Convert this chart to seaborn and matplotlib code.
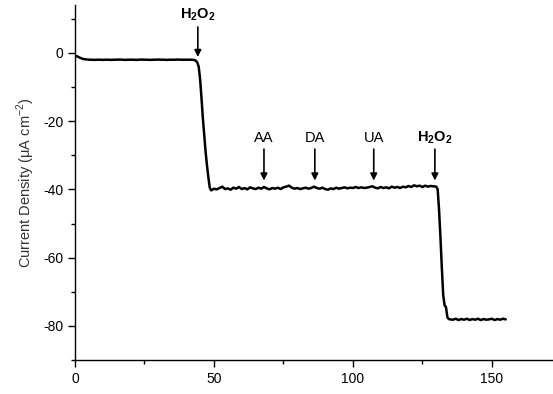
import matplotlib
matplotlib.use("Agg")
import matplotlib.pyplot as plt
import seaborn as sns
import pandas as pd
from matplotlib.ticker import MultipleLocator

time_s = [0, 1, 2, 3, 4, 5, 6, 7, 8, 9, 10, 11, 12, 13, 14, 15, 16, 17, 18, 19, 20,
          21, 22, 23, 24, 25, 26, 27, 28, 29, 30, 31, 32, 33, 34, 35, 36, 37, 38, 39,
          40, 41, 42, 43,
          43.5, 44, 44.5, 45, 45.5, 46, 46.5, 47, 47.5, 48, 48.5, 49,
          50, 51, 52, 53, 54, 55, 56, 57, 58, 59, 60, 61, 62, 63, 64, 65, 66, 67, 68,
          69, 70, 71, 72, 73, 74, 75, 76, 77, 78, 79, 80, 81, 82, 83, 84, 85, 86, 87,
          88, 89, 90, 91, 92, 93, 94, 95, 96, 97, 98, 99, 100, 101, 102, 103, 104, 105,
          106, 107, 108, 109, 110, 111, 112, 113, 114, 115, 116, 117, 118, 119, 120,
          121, 122, 123, 124, 125, 126, 127, 128, 129, 130,
          130.5, 131, 131.5, 132, 132.5, 133, 133.5, 134, 134.5,
          135, 136, 137, 138, 139, 140, 141, 142, 143, 144, 145, 146, 147, 148, 149,
          150, 151, 152, 153, 154, 155]

current = [-0.8, -1.1, -1.5, -1.8, -1.9, -2.0, -2.0, -2.05, -2.0, -2.0, -2.05, -2.0,
           -2.0, -2.05, -2.0, -2.0, -1.95, -2.0, -2.05, -2.0, -2.0, -2.0, -2.05, -2.0,
           -1.95, -2.0, -2.0, -2.05, -2.0, -2.0, -1.95, -2.0, -2.0, -2.05, -2.0, -2.0,
           -2.0, -1.95, -2.0, -2.0, -2.0, -2.0, -2.0, -2.1,
           -2.3, -2.8, -4.0, -7.5, -13, -19, -24, -29, -33, -36.5, -39.5, -40.3,
           -39.8, -40.0, -39.6, -39.2, -39.9, -39.7, -40.1, -39.5, -39.8, -39.3, -39.9,
           -39.6, -40.0, -39.4, -39.7, -39.9, -39.5, -39.8, -39.3, -39.7, -40.0, -39.6,
           -39.8, -39.5, -39.9, -39.4, -39.2, -38.9, -39.5, -39.8, -39.6, -39.9, -39.7,
           -39.5, -39.8, -39.6, -39.2, -39.6, -39.8, -39.5, -39.9, -40.1, -39.7, -39.9,
           -39.5, -39.8, -39.6, -39.4, -39.7, -39.5, -39.6, -39.3, -39.6, -39.4, -39.6,
           -39.5, -39.3, -39.1, -39.5, -39.7, -39.3, -39.6, -39.4, -39.7, -39.2, -39.5,
           -39.3, -39.6, -39.2, -39.4, -39.0, -39.3, -38.8, -39.1, -38.9, -39.3, -38.9,
           -39.2, -39.0, -39.1, -39.2,
           -40, -46, -54, -63, -71, -74, -74.5, -77.5, -78.0,
           -78.1, -78.2, -77.9, -78.3, -78.0, -78.2, -77.9, -78.3, -78.0, -78.2, -77.9,
           -78.3, -78.0, -78.2, -78.1, -77.9, -78.3, -78.0, -78.2, -77.9, -78.1]

ann_labels = [r"$\mathbf{H_2O_2}$", "AA", "DA", "UA", r"$\mathbf{H_2O_2}$"]
ann_x = [44.2, 68, 86.3, 107.5, 129.5]
ann_tip = [-1.2, -37.4, -37.4, -37.4, -37.4]
ann_text_y = [11.2, -25, -25, -25, -25]
ann_tail = [7.6, -28.2, -28.2, -28.2, -28.2]

sns.set_theme(style="ticks")
plt.rcParams['font.family'] = ['Liberation Sans', 'DejaVu Sans']
plt.rcParams['mathtext.fontset'] = 'custom'
plt.rcParams['mathtext.rm'] = 'Liberation Sans'
plt.rcParams['mathtext.bf'] = 'Liberation Sans:bold'
plt.rcParams['axes.unicode_minus'] = False
plt.rcParams['text.color'] = 'black'
plt.rcParams['axes.labelcolor'] = 'black'
plt.rcParams['xtick.color'] = 'black'
plt.rcParams['ytick.color'] = 'black'

df = pd.DataFrame({"t": time_s, "j": current})

fig = plt.figure(figsize=(5.53, 3.94), dpi=100)
ax = fig.add_axes([0.1356, 0.0863, 0.8644, 0.9007])
sns.lineplot(data=df, x="t", y="j", ax=ax, color="black", linewidth=1.8,
             estimator=None, sort=False)

ax.set_xlim(0, 172)
ax.set_ylim(-90, 14)
ax.xaxis.set_major_locator(MultipleLocator(50))
ax.xaxis.set_minor_locator(MultipleLocator(25))
ax.yaxis.set_major_locator(MultipleLocator(20))
ax.yaxis.set_minor_locator(MultipleLocator(10))
ax.tick_params(which="major", direction="out", length=5, width=1, labelsize=10,
               colors="black")
ax.tick_params(which="minor", direction="out", length=3, width=1, colors="black")
for s in ["top", "right"]:
    ax.spines[s].set_visible(False)
for s in ["left", "bottom"]:
    ax.spines[s].set_linewidth(1)
    ax.spines[s].set_color("black")

ax.set_xlabel("")
ax.set_ylabel("Current Density (\u03bcA cm$^{-2}$)", fontsize=10.5, color="#333333")

for lab, x, tip, ty, tail in zip(ann_labels, ann_x, ann_tip, ann_text_y, ann_tail):
    ax.annotate("", xy=(x, tip), xytext=(x, tail),
                arrowprops=dict(arrowstyle="-|>", color="black", lw=1.2,
                                mutation_scale=10, shrinkA=0, shrinkB=0))
    ax.text(x, ty, lab, ha="center", va="center", fontsize=10.5, color="black")

fig.savefig("out.png", dpi=100)
